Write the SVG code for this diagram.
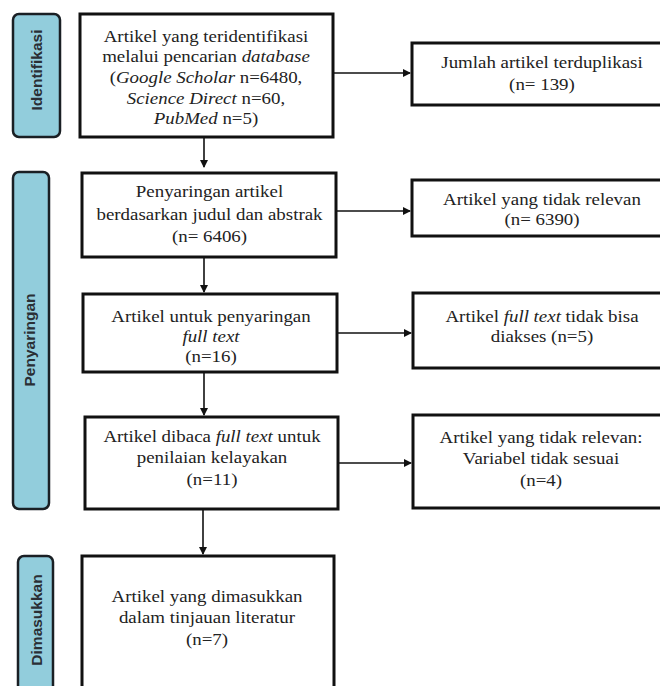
<svg xmlns="http://www.w3.org/2000/svg" width="660" height="686" viewBox="0 0 660 686">
<style>
.box{fill:#fff;stroke:#111;stroke-width:3}
.lab{fill:#92CDDC;stroke:#1a1f24;stroke-width:2.5}
.t{font-family:'Liberation Serif','Times New Roman','DejaVu Serif',serif;font-size:17.5px;fill:#222;text-anchor:middle}
.l{font-family:'Liberation Sans',Arial,sans-serif;font-size:15.5px;font-weight:bold;fill:#2a2f35;text-anchor:middle}
.c{stroke:#111;stroke-width:1.6;fill:none;marker-end:url(#ah)}
</style>
<defs>
<marker id="ah" markerWidth="8" markerHeight="8" refX="7" refY="4" orient="auto" markerUnits="userSpaceOnUse">
<path d="M0,0 L8,4 L0,8 Z" fill="#111"/>
</marker>
</defs>
<rect width="660" height="686" fill="#fff"/>
<g id="label-identifikasi">
<rect class="lab" x="13" y="14" width="47" height="123" rx="6"/>
<text class="l" transform="translate(42,70) rotate(-90)">Identifikasi</text>
</g>
<g id="label-penyaringan">
<rect class="lab" x="13" y="172" width="36" height="337" rx="6"/>
<text class="l" transform="translate(35,340) rotate(-90)">Penyaringan</text>
</g>
<g id="label-dimasukkan">
<rect class="lab" x="18" y="556" width="35" height="150" rx="6"/>
<text class="l" transform="translate(42,620) rotate(-90)">Dimasukkan</text>
</g>
<g id="connectors">
<path class="c" d="M204,137 V167"/>
<path class="c" d="M333,73 H410"/>
<path class="c" d="M204,257 V292"/>
<path class="c" d="M336,211 H410"/>
<path class="c" d="M204,372 V415"/>
<path class="c" d="M337,333 H411"/>
<path class="c" d="M203,509 V554"/>
<path class="c" d="M338,463 H411"/>
</g>
<g id="n1">
<rect class="box" x="80" y="14" width="253" height="123"/>
<g transform="matrix(1.08,0,0,1,-16.48,0)">
<text class="t" x="206" y="42">Artikel yang teridentifikasi</text>
<text class="t" x="206" y="62">melalui pencarian <tspan font-style="italic">database</tspan></text>
<text class="t" x="206" y="83">(<tspan font-style="italic">Google Scholar</tspan> n=6480,</text>
<text class="t" x="206" y="104"><tspan font-style="italic">Science Direct</tspan> n=60,</text>
<text class="t" x="206" y="124"><tspan font-style="italic">PubMed</tspan> n=5)</text>
</g>
</g>
<g id="n2">
<rect class="box" x="412" y="43" width="260" height="62"/>
<g transform="matrix(1.08,0,0,1,-43.36,0)">
<text class="t" x="542" y="68">Jumlah artikel terduplikasi</text>
<text class="t" x="542" y="90">(n= 139)</text>
</g>
</g>
<g id="n3">
<rect class="box" x="82" y="173" width="254" height="84"/>
<g transform="matrix(1.08,0,0,1,-16.76,0)">
<text class="t" x="209.5" y="197">Penyaringan artikel</text>
<text class="t" x="209.5" y="220">berdasarkan judul dan abstrak</text>
<text class="t" x="209.5" y="242">(n= 6406)</text>
</g>
</g>
<g id="n4">
<rect class="box" x="412" y="180" width="260" height="56"/>
<g transform="matrix(1.08,0,0,1,-43.36,0)">
<text class="t" x="542" y="205">Artikel yang tidak relevan</text>
<text class="t" x="542" y="225">(n= 6390)</text>
</g>
</g>
<g id="n5">
<rect class="box" x="83" y="294" width="254" height="78"/>
<g transform="matrix(1.08,0,0,1,-16.88,0)">
<text class="t" x="211" y="322">Artikel untuk penyaringan</text>
<text class="t" x="211" y="342" font-style="italic">full text</text>
<text class="t" x="211" y="362">(n=16)</text>
</g>
</g>
<g id="n6">
<rect class="box" x="413" y="293" width="260" height="75"/>
<g transform="matrix(1.08,0,0,1,-43.36,0)">
<text class="t" x="542" y="322">Artikel <tspan font-style="italic">full text</tspan> tidak bisa</text>
<text class="t" x="542" y="342">diakses (n=5)</text>
</g>
</g>
<g id="n7">
<rect class="box" x="85" y="417" width="253" height="92"/>
<g transform="matrix(1.08,0,0,1,-16.96,0)">
<text class="t" x="212" y="442">Artikel dibaca <tspan font-style="italic">full text</tspan> untuk</text>
<text class="t" x="212" y="463">penilaian kelayakan</text>
<text class="t" x="212" y="485">(n=11)</text>
</g>
</g>
<g id="n8">
<rect class="box" x="413" y="415" width="260" height="93"/>
<g transform="matrix(1.08,0,0,1,-43.28,0)">
<text class="t" x="541" y="443">Artikel yang tidak relevan:</text>
<text class="t" x="541" y="464">Variabel tidak sesuai</text>
<text class="t" x="541" y="486">(n=4)</text>
</g>
</g>
<g id="n9">
<rect class="box" x="82" y="556" width="252" height="150"/>
<g transform="matrix(1.08,0,0,1,-16.56,0)">
<text class="t" x="207" y="602">Artikel yang dimasukkan</text>
<text class="t" x="207" y="623">dalam tinjauan literatur</text>
<text class="t" x="207" y="645">(n=7)</text>
</g>
</g>
</svg>
